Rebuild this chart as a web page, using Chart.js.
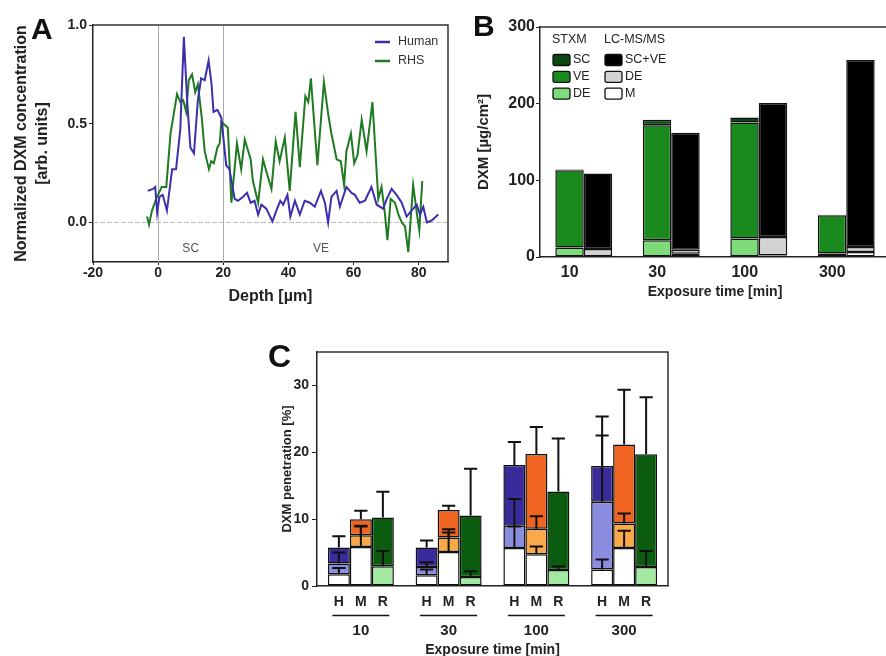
<!DOCTYPE html>
<html>
<head>
<meta charset="utf-8">
<script src="https://cdn.jsdelivr.net/npm/chart.js@4.4.0/dist/chart.umd.min.js"></script>
<style>
  html, body { margin: 0; padding: 0; background: #fff; width: 886px; height: 656px; overflow: hidden; position: relative; }
  .panel { position: absolute; }
  .letter { position: absolute; font: bold 30px "Liberation Sans", Arial, sans-serif; line-height: 1; color: #111; }
</style>
</head>
<body>
<div class="panel" style="left:0;top:0"><canvas id="chartA" width="460" height="310"></canvas></div>
<div class="panel" style="left:470px;top:0"><canvas id="chartB" width="422" height="305"></canvas></div>
<div class="panel" style="left:260px;top:300px"><canvas id="chartC" width="420" height="360"></canvas></div>
<div class="letter" style="left:31px;top:14px">A</div>
<div class="letter" style="left:473px;top:11px">B</div>
<div class="letter" style="left:268px;top:340px;font-size:32px">C</div>

<script>
// ---- panel A: depth profiles ----
var humanDepth = [-3.2, -1.6, -0.9, -0.3, 0.4, 1.4, 2.7, 4.3, 5.5, 6.8, 7.9, 8.9, 9.9, 11.0, 12.2, 13.2, 14.3, 15.5, 16.4, 17.0, 18.2, 19.4,
    20.9, 21.9, 23.5, 24.5, 26.1, 27.3, 28.4, 29.6, 30.7, 31.7, 33.2, 35.1, 36.3, 37.5, 38.4, 39.7, 40.6, 42.0, 43.5, 45.0, 46.6, 48.1,
    50.0, 51.2, 52.2, 53.2, 54.8, 55.8, 57.8, 59.4, 60.4, 61.9, 63.5, 65.5, 67.1, 69.1, 70.2, 71.7, 73.2, 74.8, 76.3, 77.8, 79.4, 80.4,
    81.4, 82.5, 84.0, 86.0];
var humanSignal = [0.16, 0.17, 0.18, 0.05, 0.13, 0.14, 0.06, 0.27, 0.27, 0.47, 0.94, 0.62, 0.38, 0.35, 0.62, 0.73, 0.72, 0.82, 0.70, 0.56, 0.57, 0.53,
    0.29, 0.27, 0.12, 0.11, 0.13, 0.15, 0.10, 0.11, 0.04, 0.09, 0.07, 0.005, 0.06, 0.11, 0.09, 0.14, 0.03, 0.11, 0.04, 0.11, 0.10, 0.08,
    0.16, 0.10, 0.0, 0.13, 0.16, 0.08, 0.18, 0.15, 0.14, 0.10, 0.11, 0.18, 0.09, 0.07, 0.12, 0.17, 0.14, 0.10, 0.03, 0.06, 0.09, 0.04,
    0.08, 0.0, 0.01, 0.04];
var rhsDepth = [-3.4, -2.8, -1.9, -0.6, 1.1, 2.5, 3.8, 5.0, 5.8, 6.8, 7.7, 8.6, 9.4, 10.4, 11.4, 12.2, 13.4, 14.3, 15.6, 16.3, 17.1, 18.2, 18.9,
    19.4, 21.4, 22.5, 24.2, 25.5, 26.6, 28.4, 29.1, 30.7, 32.2, 33.2, 34.8, 36.1, 37.3, 38.9, 40.4, 42.2, 43.5, 45.2, 46.1, 46.9, 48.9,
    50.9, 52.2, 53.2, 54.8, 56.1, 57.1, 57.8, 59.2, 60.2, 61.2, 62.5, 64.0, 65.8, 67.6, 68.6, 69.6, 70.4, 71.4, 72.7, 73.8, 74.8, 75.8,
    76.8, 78.3, 79.4, 80.2, 81.1];
var rhsSignal = [0.03, -0.01, 0.06, 0.12, 0.18, 0.18, 0.45, 0.57, 0.65, 0.61, 0.62, 0.56, 0.72, 0.75, 0.66, 0.70, 0.53, 0.36, 0.27, 0.31, 0.30, 0.38, 0.40,
    0.51, 0.48, 0.10, 0.40, 0.27, 0.42, 0.32, 0.21, 0.10, 0.32, 0.26, 0.17, 0.41, 0.31, 0.43, 0.16, 0.56, 0.28, 0.64, 0.61, 0.73, 0.29,
    0.71, 0.55, 0.45, 0.32, 0.31, 0.19, 0.36, 0.45, 0.30, 0.34, 0.52, 0.36, 0.61, 0.12, 0.18, 0.05, -0.09, 0.12, 0.10, 0.04, 0.0, -0.02,
    -0.15, 0.19, 0.05, -0.04, 0.21];
var depthTicks = [-20, 0, 20, 40, 60, 80];
var signalTicks = [0, 0.5, 1.0];
var layerBounds = [0, 20];
var layerNames = ['SC', 'VE'];
var layerNameDepth = [10, 50];

// ---- panel B: amounts per compartment ----
var exposureTimes = ['10', '30', '100', '300'];
var stxmDE = [12.5, 22, 24, 4.5];
var stxmVE = [100.5, 150, 151.5, 50];
var stxmSC = [1, 7, 6.5, 0.6];
var lcM = [1, 4.4, 2, 6.5];
var lcDE = [9.5, 5.2, 24, 6.5];
var lcSCVE = [98.5, 152.4, 175, 244];
var doseTicks = [0, 100, 200, 300];

// ---- panel C: penetration per skin model ----
var skinModels = ['H', 'M', 'R'];
var hWhite = [1.75, 1.6, 5.7, 2.45];
var hLight = [1.6, 1.25, 3.3, 10.15];
var hDark = [2.4, 2.9, 9.1, 5.35];
var hWhiteErr = [0.95, 0.85, 3.2, 1.5];
var hLightErr = [1.65, 0.7, 4.0, 9.9];
var hDarkErr = [1.7, 1.05, 3.45, 7.4];
var mWhite = [5.85, 5.1, 4.75, 5.7];
var mLight = [1.75, 2.15, 3.8, 3.65];
var mDark = [2.4, 4.1, 11.2, 11.8];
var mWhiteErr = [3.05, 2.9, 1.15, 2.55];
var mLightErr = [1.4, 1.25, 1.9, 1.5];
var mDarkErr = [1.25, 0.65, 4.05, 8.2];
var rLight = [2.95, 1.35, 2.4, 2.85];
var rDark = [7.3, 9.2, 11.75, 16.85];
var rLightErr = [2.3, 0.85, 0.5, 2.4];
var rDarkErr = [3.85, 7.0, 7.9, 8.55];
var percentTicks = [0, 10, 20, 30];

var FONT = '"Liberation Sans", Arial, sans-serif';
Chart.defaults.font.family = FONT;
Chart.defaults.color = '#222';
Chart.defaults.animation = false;

function fixTicks(values) {
    return function (scale) { scale.ticks = values.map(function (v) { return { value: v }; }); };
}

// draws the top/right edges of the plot box
var boxPlugin = {
    id: 'box',
    afterDraw: function (chart) {
        var a = chart.chartArea, ctx = chart.ctx;
        ctx.save();
        ctx.strokeStyle = '#333';
        ctx.lineWidth = 1.5;
        ctx.beginPath();
        ctx.moveTo(a.left, a.top);
        ctx.lineTo(a.right, a.top);
        ctx.lineTo(a.right, a.bottom);
        ctx.stroke();
        ctx.restore();
    }
};

// ===== chart A =====
var layerPlugin = {
    id: 'layers',
    beforeDatasetsDraw: function (chart) {
        var ctx = chart.ctx, x = chart.scales.x, y = chart.scales.y, a = chart.chartArea;
        ctx.save();
        ctx.strokeStyle = '#aaa';
        ctx.lineWidth = 1;
        layerBounds.forEach(function (d) {
            var px = Math.round(x.getPixelForValue(d)) + 0.5;
            ctx.beginPath(); ctx.moveTo(px, a.top); ctx.lineTo(px, a.bottom); ctx.stroke();
        });
        ctx.strokeStyle = '#bbb';
        ctx.setLineDash([5, 2]);
        var py = Math.round(y.getPixelForValue(0)) + 0.5;
        ctx.beginPath(); ctx.moveTo(a.left, py); ctx.lineTo(a.right, py); ctx.stroke();
        ctx.setLineDash([]);
        ctx.fillStyle = '#555';
        ctx.font = '12px ' + FONT;
        ctx.textAlign = 'center';
        ctx.textBaseline = 'middle';
        layerNames.forEach(function (n, i) {
            ctx.fillText(n, x.getPixelForValue(layerNameDepth[i]), y.getPixelForValue(-0.133));
        });
        ctx.restore();
    },
    afterDraw: function (chart) {
        var ctx = chart.ctx;
        ctx.save();
        ctx.font = '12.5px ' + FONT;
        ctx.textBaseline = 'middle';
        chart.data.datasets.forEach(function (ds, i) {
            var yy = 42 + i * 19;
            ctx.strokeStyle = ds.borderColor;
            ctx.lineWidth = 2.5;
            ctx.beginPath(); ctx.moveTo(375, yy); ctx.lineTo(390, yy); ctx.stroke();
            ctx.fillStyle = '#333';
            ctx.fillText(ds.label, 398, yy);
        });
        ctx.restore();
    }
};

new Chart(document.getElementById('chartA'), {
    type: 'line',
    data: {
        datasets: [{
            label: 'Human',
            data: humanDepth.map(function (d, i) { return { x: d, y: humanSignal[i] }; }),
            borderColor: '#3b2fae',
            borderWidth: 2,
            pointRadius: 0,
            tension: 0
        }, {
            label: 'RHS',
            data: rhsDepth.map(function (d, i) { return { x: d, y: rhsSignal[i] }; }),
            borderColor: '#1f7a22',
            borderWidth: 2,
            pointRadius: 0,
            tension: 0
        }]
    },
    options: {
        responsive: false,
        layout: { padding: { top: 25, right: 12, left: 0, bottom: 0 } },
        plugins: { legend: { display: false }, tooltip: { enabled: false } },
        scales: {
            x: {
                type: 'linear', min: -20, max: 89,
                afterBuildTicks: fixTicks(depthTicks),
                afterFit: function (s) { s.height = 48; },
                grid: { drawOnChartArea: false, tickLength: 3, color: '#222' },
                border: { color: '#222', width: 1.5 },
                ticks: { font: { size: 14, weight: 'bold' }, padding: 0, maxRotation: 0 },
                title: { display: true, text: 'Depth [µm]', font: { size: 16, weight: 'bold' }, padding: { top: 0, bottom: 4 } }
            },
            y: {
                min: -0.2, max: 1.0,
                afterBuildTicks: fixTicks(signalTicks),
                afterFit: function (s) { s.width = 93; },
                grid: { drawOnChartArea: false, tickLength: 4, color: '#222' },
                border: { color: '#222', width: 1.5 },
                ticks: { font: { size: 14, weight: 'bold' }, padding: 2, callback: function (v) { return v.toFixed(1); } },
                title: {
                    display: true,
                    text: ['Normalized DXM concentration', '[arb. units]'],
                    font: { size: 16, weight: 'bold', lineHeight: 1.3 },
                    padding: { top: 11.6, bottom: 0 }
                }
            }
        }
    },
    plugins: [layerPlugin, boxPlugin]
});

// ===== chart B =====
var legendBPlugin = {
    id: 'legendB',
    afterDraw: function (chart) {
        var ctx = chart.ctx, ds = chart.data.datasets;
        var cols = [{ x: 83, title: 'STXM', items: [2, 1, 0] }, { x: 135, title: 'LC-MS/MS', items: [5, 4, 3] }];
        ctx.save();
        ctx.font = '12.5px ' + FONT;
        ctx.textBaseline = 'middle';
        cols.forEach(function (c) {
            ctx.fillStyle = '#222';
            ctx.fillText(c.title, c.x - 1, 40);
            c.items.forEach(function (di, r) {
                var yy = 60 + r * 16.8;
                ctx.beginPath();
                ctx.roundRect(c.x, yy - 5.5, 17, 11, 2);
                ctx.fillStyle = ds[di].backgroundColor;
                ctx.fill();
                ctx.strokeStyle = '#111';
                ctx.lineWidth = 1.3;
                ctx.stroke();
                ctx.fillStyle = '#222';
                ctx.fillText(ds[di].label, c.x + 20, yy);
            });
        });
        ctx.restore();
    }
};

function barSet(label, data, color, stack) {
    return {
        label: label, data: data, stack: stack,
        backgroundColor: color, borderColor: '#111', borderWidth: 1.5, borderSkipped: false,
        barPercentage: 1, categoryPercentage: 0.65
    };
}

new Chart(document.getElementById('chartB'), {
    type: 'bar',
    data: {
        labels: exposureTimes,
        datasets: [
            barSet('DE', stxmDE, '#7edb7a', 'stxm'),
            barSet('VE', stxmVE, '#1b8a1e', 'stxm'),
            barSet('SC', stxmSC, '#0b4710', 'stxm'),
            barSet('M', lcM, '#ffffff', 'lc'),
            barSet('DE', lcDE, '#d3d3d3', 'lc'),
            barSet('SC+VE', lcSCVE, '#000000', 'lc')
        ]
    },
    options: {
        responsive: false,
        layout: { padding: { top: 27, right: 2, left: 0, bottom: 0 } },
        plugins: { legend: { display: false }, tooltip: { enabled: false } },
        scales: {
            x: {
                stacked: true,
                afterFit: function (s) { s.height = 48; },
                grid: { display: false, drawTicks: false },
                border: { color: '#222', width: 1.5 },
                ticks: { font: { size: 16, weight: 'bold' }, padding: 6, labelOffset: -14 },
                title: { display: true, text: 'Exposure time [min]', font: { size: 14, weight: 'bold' }, padding: { top: 0, bottom: 4.6 } }
            },
            y: {
                stacked: true, min: 0, max: 300,
                afterBuildTicks: fixTicks(doseTicks),
                afterFit: function (s) { s.width = 70; },
                grid: { drawOnChartArea: false, tickLength: 4, color: '#222' },
                border: { color: '#222', width: 1.5 },
                ticks: { font: { size: 16, weight: 'bold' }, padding: 1 },
                title: { display: true, text: 'DXM [µg/cm²]', font: { size: 15, weight: 'bold' }, padding: { top: 5, bottom: 0 } }
            }
        }
    },
    plugins: [legendBPlugin, boxPlugin]
});

// ===== chart C =====
var errorPlugin = {
    id: 'errors',
    afterDatasetsDraw: function (chart) {
        var ctx = chart.ctx, y = chart.scales.y;
        ctx.save();
        ctx.strokeStyle = '#111';
        ctx.lineWidth = 2;
        chart.data.datasets.forEach(function (ds, di) {
            if (!ds.errors) return;
            chart.getDatasetMeta(di).data.forEach(function (bar, i) {
                var top = y.getValueForPixel(bar.y);
                var end = y.getPixelForValue(top + ds.errors[i]);
                var half = bar.width * 0.3;
                ctx.beginPath();
                ctx.moveTo(bar.x, bar.y); ctx.lineTo(bar.x, end);
                ctx.moveTo(bar.x - half, end); ctx.lineTo(bar.x + half, end);
                ctx.stroke();
            });
        });
        ctx.restore();
    },
    afterDraw: function (chart) {
        var ctx = chart.ctx, a = chart.chartArea;
        var firstOfStack = [0, 3, 6];
        ctx.save();
        ctx.fillStyle = '#222';
        ctx.strokeStyle = '#111';
        ctx.lineWidth = 1.5;
        ctx.font = 'bold 14px ' + FONT;
        ctx.textAlign = 'center';
        ctx.textBaseline = 'middle';
        chart.data.labels.forEach(function (lab, i) {
            var xs = firstOfStack.map(function (di) { return chart.getDatasetMeta(di).data[i].x; });
            xs.forEach(function (px, k) { ctx.fillText(skinModels[k], px, a.bottom + 16); });
            ctx.beginPath();
            ctx.moveTo(xs[0] - 6.5, a.bottom + 29.5);
            ctx.lineTo(xs[2] + 6.5, a.bottom + 29.5);
            ctx.stroke();
        });
        ctx.restore();
    }
};

function segSet(label, data, errors, color, stack) {
    return {
        label: label, data: data, errors: errors, stack: stack,
        backgroundColor: color, borderColor: '#111', borderWidth: 1.5, borderSkipped: false,
        barPercentage: 1, categoryPercentage: 0.752
    };
}

new Chart(document.getElementById('chartC'), {
    type: 'bar',
    data: {
        labels: exposureTimes,
        datasets: [
            segSet('H base', hWhite, hWhiteErr, '#ffffff', 'H'),
            segSet('H mid', hLight, hLightErr, '#8a8ce0', 'H'),
            segSet('H top', hDark, hDarkErr, '#3a2b9c', 'H'),
            segSet('M base', mWhite, mWhiteErr, '#ffffff', 'M'),
            segSet('M mid', mLight, mLightErr, '#f9a84a', 'M'),
            segSet('M top', mDark, mDarkErr, '#ee6420', 'M'),
            segSet('R base', rLight, rLightErr, '#a2e8a0', 'R'),
            segSet('R top', rDark, rDarkErr, '#0b5c0f', 'R')
        ]
    },
    options: {
        responsive: false,
        layout: { padding: { top: 52, right: 12, left: 0, bottom: 0 } },
        plugins: { legend: { display: false }, tooltip: { enabled: false } },
        scales: {
            x: {
                stacked: true,
                afterFit: function (s) { s.height = 74; },
                grid: { display: false, drawTicks: false },
                border: { color: '#222', width: 1.5 },
                ticks: { font: { size: 15, weight: 'bold' }, padding: 36 },
                title: { display: true, text: 'Exposure time [min]', font: { size: 14, weight: 'bold' }, padding: { top: 0, bottom: 1.6 } }
            },
            y: {
                stacked: true, min: 0, max: 35,
                afterBuildTicks: fixTicks(percentTicks),
                afterFit: function (s) { s.width = 57; },
                grid: { drawOnChartArea: false, tickLength: 5, color: '#222' },
                border: { color: '#222', width: 1.5 },
                ticks: { font: { size: 14, weight: 'bold' }, padding: 3 },
                title: { display: true, text: 'DXM penetration [%]', font: { size: 13, weight: 'bold' }, padding: { top: 20, bottom: 0 } }
            }
        }
    },
    plugins: [errorPlugin, boxPlugin]
});
</script>
</body>
</html>
